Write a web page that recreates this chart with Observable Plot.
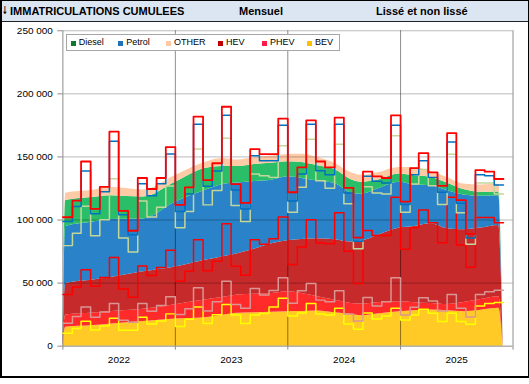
<!DOCTYPE html>
<html><head><meta charset="utf-8">
<script src="https://cdn.jsdelivr.net/npm/d3@7"></script>
<script src="https://cdn.jsdelivr.net/npm/@observablehq/plot@0.6"></script>
<style>
html,body{margin:0;padding:0;background:#fff;}
#frame{position:absolute;left:0;top:0;width:529px;height:378px;box-sizing:border-box;border:1px solid #000;border-left-width:2px;border-bottom-width:2px;overflow:hidden;font-family:"Liberation Sans",Arial,sans-serif;background:#fff;}
#header{position:absolute;left:0;top:0;right:0;height:20px;background:#dce6f2;border-bottom:1px solid #202020;font-weight:bold;font-size:11px;color:#000;}
#header span{position:absolute;top:4.7px;white-space:nowrap;line-height:11px;}
#header span.arrow{font-family:"DejaVu Sans",sans-serif;font-size:11px;top:4.2px;left:0px;transform:scaleX(0.62);transform-origin:0 50%;}
#chart{position:absolute;left:-2px;top:20px;}
#legend{position:absolute;left:63.7px;top:33px;width:272px;height:15px;border:1px solid #a6a6a6;background:#fff;font-size:9px;color:#000;}
#legend .sq{position:absolute;top:5.7px;width:5px;height:5px;}
#legend .lb{position:absolute;top:3.1px;line-height:9px;white-space:nowrap;}
</style></head>
<body>
<div id="frame">
  <div id="header">
    <span class="arrow">↓</span>
    <span style="left:8px">IMMATRICULATIONS CUMULEES</span>
    <span style="left:237px">Mensuel</span>
    <span style="left:374px">Lissé et non lissé</span>
  </div>
  <div id="chart"></div>
  <div id="legend"></div>
</div>
<script>
// ---------- DATA (thousands of registrations) ----------
const categories = ["BEV", "PHEV", "HEV", "Petrol", "Diesel", "OTHER"];
const areaColors = ["#FFC926", "#FF2A2A", "#C62A2A", "#2A82C8", "#2BBE68", "#FFCBA6"];
const stepColors = ["#FFFF00", "#DA9694", "#FF0000", "#C4D79B", "#0070C0", "#FF0000"];
const legendNames = ["Diesel", "Petrol", "OTHER", "HEV", "PHEV", "BEV"];
const legendColors = ["#0E7A2D", "#2072B8", "#FFC7A4", "#C00000", "#FF1A4A", "#FFC000"];
const yearLabels = ["2022", "2023", "2024", "2025"];
const yTicks = [0, 50000, 100000, 150000, 200000, 250000];

// monthly values, Jan 2022 .. Nov 2025
const bev = [10.3,14.0,19.7,12.8,15.9,22.1,12.6,12.6,22.9,17.6,20.0,25.6,
             15.5,21.3,31.0,17.9,25.0,33.1,24.7,17.9,24.7,25.8,31.0,37.9,
             24.0,26.3,33.9,25.5,24.7,30.0,17.6,13.4,26.3,21.6,23.9,30.0,
             20.8,24.7,29.2,26.0,19.5,26.0,19.5,17.4,31.8,33.9,34.7];
const phev = [7.9,9.5,11.4,10.1,11.1,11.7,7.9,6.3,10.9,10.1,12.2,13.6,
              9.7,8.4,15.3,10.0,10.2,18.4,8.3,12.1,21.0,14.7,13.2,16.3,
              10.0,17.6,15.8,11.0,10.5,13.9,7.9,6.6,12.3,10.2,11.3,24.2,
              3.9,6.1,9.2,9.8,8.4,15.0,10.5,5.7,9.2,9.2,9.7];
const hev = [22.8,23.5,29.4,24.6,27.4,36.4,24.8,19.9,29.8,28.3,30.1,36.8,
             26.3,29.7,38.1,31.8,32.1,45.5,30.4,26.3,38.7,40.2,41.0,48.1,
             30.7,34.7,50.5,45.3,46.0,61.8,49.7,29.7,53.1,56.0,52.6,63.8,
             52.1,63.0,69.6,62.0,54.1,77.0,50.2,39.5,61.0,58.9,53.4];
const petrol = [38.7,42.6,50.5,40.0,45.8,62.6,40.4,35.9,51.5,46.3,47.8,51.0,
                42.3,47.3,71.8,52.3,56.0,67.8,48.1,42.5,52.0,54.4,48.6,56.5,
                41.5,47.4,63.8,49.4,43.9,54.4,37.6,27.6,34.7,33.7,32.9,48.7,
                29.4,34.7,32.0,29.4,30.3,34.2,25.5,18.1,27.3,27.3,22.9];
const diesel = [19.1,21.2,27.8,17.4,22.3,29.6,18.4,13.6,13.7,17.0,18.7,25.4,
                12.9,14.0,19.7,14.7,15.5,18.2,12.3,10.0,14.5,11.8,13.1,16.3,
                8.9,10.4,11.9,7.9,10.8,15.8,8.7,5.8,8.2,9.2,8.6,8.4,
                6.1,7.4,7.0,6.6,9.7,9.7,7.6,5.0,6.6,5.8,7.1];
const other = [3.4,4.6,7.6,3.9,3.7,7.6,3.1,3.2,4.5,5.3,4.5,5.3,
               5.3,5.2,6.0,5.0,6.2,6.8,4.7,4.8,5.3,5.3,5.3,5.2,
               6.9,5.3,3.1,7.3,5.8,5.2,3.9,2.9,3.7,3.9,4.0,7.9,
               2.3,5.3,6.0,3.9,5.0,6.9,2.4,3.3,3.7,3.2,4.7];

// smoothed (trend) values per category
const smoothDates = ["2022-01-01","2022-01-10","2022-04-10","2022-06-01","2022-09-19","2023-01-01",
  "2023-04-07","2023-06-01","2023-07-22","2023-09-16","2023-11-10","2024-01-01","2024-02-15",
  "2024-04-07","2024-06-01","2024-07-25","2024-08-28","2024-10-19","2024-12-28","2025-02-15",
  "2025-04-10","2025-06-01","2025-07-25","2025-09-19","2025-11-16","2025-11-30"];
const sBev = [0,15.0,16.3,17.4,19.5,21.5,22.6,24.3,26.0,26.4,26.8,27.3,27.5,27.9,26.5,25.2,24.2,25.5,27.3,28.0,28.7,28.0,27.3,28.5,30.0,0];
const sPhev = [0,9.7,10.0,9.9,9.7,11.3,13.9,14.2,14.5,14.8,15.0,15.8,14.3,11.3,10.0,8.7,9.2,9.0,7.9,6.5,5.2,5.1,7.4,8.5,9.2,0];
const sHev = [0,25.0,26.2,26.9,29.7,30.0,31.6,32.2,32.8,35.8,39.4,40.4,42.8,46.0,47.9,48.6,49.9,53.3,58.4,60.4,63.1,60.0,57.6,56.6,56.5,0];
const sPetrol = [0,45.2,46.0,46.2,42.0,51.3,55.2,57.3,56.0,53.5,50.3,50.7,48.4,45.8,44.6,39.0,37.2,36.8,36.3,32.9,30.2,30.2,27.6,25.2,23.6,0];
const sDiesel = [0,20.5,19.5,18.9,17.4,15.9,17.6,14.5,13.2,13.5,13.5,12.0,12.6,12.0,11.0,10.5,9.5,6.9,6.5,7.2,6.6,6.0,4.2,3.2,3.0,0];
const sOther = [0,5.8,5.5,6.6,5.5,5.3,4.7,6.3,5.0,5.5,5.8,5.8,6.6,6.6,5.0,5.5,5.5,6.0,5.3,6.7,4.5,4.5,4.4,5.8,6.0,0];

// ---------- BUILD ----------
const K = 1000;
const monthly = [bev, phev, hev, petrol, diesel, other];
const smooth = [sBev, sPhev, sHev, sPetrol, sDiesel, sOther];
const n = bev.length;
const months = d3.range(n).map(i => new Date(Date.UTC(2022, i, 1)));
const endDate = new Date(Date.UTC(2022, n, 1));

let acc = new Array(n).fill(0);
const stepSeries = monthly.map(arr => {
  acc = acc.map((a, i) => a + arr[i]);
  const pts = months.map((d, i) => ({date: d, v: acc[i] * K}));
  pts.push({date: endDate, v: acc[n - 1] * K});
  return pts;
});

const smoothRows = [];
smooth.forEach((arr, k) => arr.forEach((v, i) =>
  smoothRows.push({date: new Date(smoothDates[i]), cat: categories[k], v: v * K})));

const yearStarts = d3.range(yearLabels.length + 1).map(i => new Date(Date.UTC(2022 + i, 0, 1)));
const midYears = yearLabels.map(y => new Date(Date.UTC(+y, 6, 2)));
const fmt = d => d3.format(",")(d).replace(/,/g, " ");

const plot = Plot.plot({
  width: 529, height: 356,
  marginLeft: 62.5, marginRight: 15.5, marginTop: 9.3, marginBottom: 30.7,
  style: {fontFamily: "Liberation Sans, Arial, sans-serif", fontSize: "10px", background: "transparent", color: "#000"},
  x: {type: "utc", domain: [yearStarts[0], yearStarts[yearStarts.length - 1]], axis: null, label: null},
  y: {domain: [0, 250000], axis: null, label: null},
  color: {domain: categories, range: areaColors},
  marks: [
    Plot.areaY(smoothRows, {x: "date", y: "v", fill: "cat", order: categories, curve: "monotone-x"}),
    Plot.gridY(yTicks.slice(1), {stroke: "#000", strokeOpacity: 0.28}),
    Plot.gridX(yearStarts.slice(1), {stroke: "#000", strokeOpacity: 0.45}),
    Plot.ruleY([0], {stroke: "#8c8c8c"}),
    Plot.ruleX([yearStarts[0]], {stroke: "#8c8c8c"}),
    Plot.axisY(yTicks, {tickSize: 5, tickFormat: () => "", stroke: "#8c8c8c", label: null}),
    Plot.axisY(yTicks, {tickSize: 0, tickPadding: 10, tickFormat: fmt, fill: "#000", fontSize: 10, label: null}),
    Plot.axisX(yearStarts, {tickSize: 4, tickFormat: () => "", stroke: "#8c8c8c", label: null}),
    Plot.axisX(midYears, {tickSize: 0, tickPadding: 10, tickFormat: (d, i) => yearLabels[i], fill: "#000", fontSize: 10, label: null}),
    ...stepSeries.map((pts, k) => Plot.line(pts, {
      x: "date", y: "v", stroke: stepColors[k], strokeWidth: k === 5 ? 1.8 : 1.5, curve: "step-after"
    }))
  ]
});
document.getElementById("chart").appendChild(plot);

// legend
const legendSqX = [4, 51.6, 99.3, 151.3, 195.3, 240.3];
const lg = document.getElementById("legend");
legendNames.forEach((name, i) => {
  const sq = document.createElement("div");
  sq.className = "sq"; sq.style.left = legendSqX[i] + "px"; sq.style.background = legendColors[i];
  const lb = document.createElement("div");
  lb.className = "lb"; lb.style.left = (legendSqX[i] + 8) + "px"; lb.textContent = name;
  lg.appendChild(sq); lg.appendChild(lb);
});
</script>
</body></html>
